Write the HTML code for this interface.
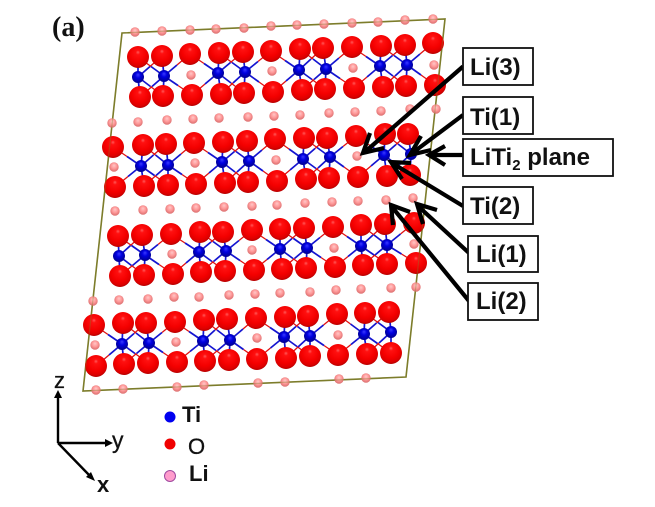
<!DOCTYPE html>
<html>
<head>
<meta charset="utf-8">
<style>
html,body{margin:0;padding:0;background:#fff;width:655px;height:507px;overflow:hidden}
svg{display:block}
.b{fill:#fff;stroke:#111;stroke-width:1.8}
.t{font-family:"Liberation Sans",Arial,sans-serif;font-weight:bold;font-size:24px;fill:#111}
.a{fill:none;stroke:#000;stroke-width:4.200}
.ax{fill:none;stroke:#000;stroke-width:2.400}
</style>
</head>
<body>
<svg id="s" xmlns="http://www.w3.org/2000/svg" width="655" height="507" viewBox="0 0 655 507">
<defs>
<radialGradient id="gO" cx="48%" cy="40%" r="62%" fx="50%" fy="28%">
<stop offset="0" stop-color="#ff5a5a"/><stop offset=".16" stop-color="#ff1010"/><stop offset=".6" stop-color="#f40000"/><stop offset=".85" stop-color="#dc0000"/><stop offset="1" stop-color="#a80000"/>
</radialGradient>
<radialGradient id="gT" cx="50%" cy="45%" r="58%" fx="50%" fy="30%">
<stop offset="0" stop-color="#3a3aff"/><stop offset=".4" stop-color="#0000e0"/><stop offset="1" stop-color="#000088"/>
</radialGradient>
<radialGradient id="gL" cx="50%" cy="45%" r="58%" fx="50%" fy="32%">
<stop offset="0" stop-color="#ffc8c8"/><stop offset=".5" stop-color="#ff9a9a"/><stop offset="1" stop-color="#d86a6a"/>
</radialGradient>
</defs>
<polygon points="122,33 445,19 406,377 83,391" fill="none" stroke="#7d7d2c" stroke-width="1.6"/>
<g id="bonds"></g>
<g id="atoms"></g>
<polygon points="122,33 445,19 406,377 83,391" fill="none" stroke="#7d7d2c" stroke-width="1.2" opacity=".35"/>

<g class="a">
<path class="a" d="M463 66.500L366 151M370 133L363 153L384 148"/>
<path class="a" d="M463 115L411 154M421 136L410 155L431 150"/>
<path class="a" d="M463 155H430M445 146L429 155L445 165"/>
<path class="a" d="M463 206L392 163M411 163L391 162L402 179"/>
<path class="a" d="M469 253L418 206M437 210L417 204L423 224"/>
<path class="a" d="M469 301L392 207M410 212L391 205L393 225"/>
</g>

<rect class="b" x="463" y="48" width="70" height="37"/>
<rect class="b" x="463" y="97" width="70" height="37"/>
<rect class="b" x="463" y="139" width="150" height="37"/>
<rect class="b" x="463" y="187" width="70" height="37"/>
<rect class="b" x="468" y="236" width="70" height="36"/>
<rect class="b" x="468" y="283" width="70" height="37"/>
<text class="t" x="470" y="75">Li(3)</text>
<text class="t" x="470" y="125">Ti(1)</text>
<text class="t" x="470" y="165">LiTi<tspan font-size="15" dy="5">2</tspan><tspan dy="-5"> plane</tspan></text>
<text class="t" x="470" y="214">Ti(2)</text>
<text class="t" x="476" y="262">Li(1)</text>
<text class="t" x="476" y="309">Li(2)</text>

<text x="52" y="36" font-family="'Liberation Serif',serif" font-weight="bold" font-size="28" fill="#111">(a)</text>

<path class="ax" d="M58 443V394M58 443H110M58 443L91 477"/>
<polygon points="58,390 54,398 62,398" fill="#000"/>
<polygon points="113,443 105,439 105,447" fill="#000"/>
<polygon points="95,481 86,477 91,472" fill="#000"/>
<text x="54" y="388" font-family="'Liberation Sans',sans-serif" font-size="22" fill="#111" stroke="#111" stroke-width=".3">z</text>
<text x="112" y="448" font-family="'Liberation Sans',sans-serif" font-size="23" fill="#111" stroke="#111" stroke-width=".3">y</text>
<text x="97" y="492" font-family="'Liberation Sans',sans-serif" font-weight="bold" font-size="22" fill="#111">x</text>

<circle cx="170" cy="417" r="5.500" fill="#0000f0"/>
<circle cx="170" cy="444" r="5.500" fill="#f00000"/>
<circle cx="170" cy="476" r="5.500" fill="#ff9ccc" stroke="#a04aa0" stroke-width="1"/>
<text x="182" y="422" font-family="'Liberation Sans',sans-serif" font-weight="bold" font-size="22" fill="#111">Ti</text>
<text x="188" y="454" font-family="'Liberation Sans',sans-serif" font-size="22" fill="#111" stroke="#111" stroke-width=".3">O</text>
<text x="189" y="481" font-family="'Liberation Sans',sans-serif" font-weight="bold" font-size="22" fill="#111">Li</text>
</svg>
<script>
var NS="http://www.w3.org/2000/svg";
var layers=[
{top:[[138,57],[162,56],[190,54],[219,53],[243,52],[271,51],[300,49],[323,48],[352,47],[381,46],[405,45],[433,43]],
 bot:[[140,97],[163,96],[192,95],[221,94],[244,93],[273,92],[302,90],[325,89],[354,88],[383,87],[406,86],[435,85]],
 ti:[[138,77],[164,76],[218,73],[245,72],[299,70],[326,69],[380,66],[407,65]],idx:[0,1,3,4,6,7,9,10]},
{top:[[113,147],[143,145],[166,144],[194,143],[223,142],[247,141],[275,139],[304,138],[327,138],[356,136],[385,134],[408,134]],
 bot:[[115,187],[144,186],[168,185],[196,184],[225,183],[248,182],[277,181],[306,179],[329,178],[358,177],[387,176],[410,175]],
 ti:[[141,166],[168,165],[222,162],[249,161],[303,159],[330,157],[384,155],[411,154]],idx:[1,2,4,5,7,8,10,11]},
{top:[[118,236],[142,235],[171,234],[200,232],[223,232],[252,230],[280,229],[304,228],[333,227],[361,225],[385,224],[414,223]],
 bot:[[120,276],[144,275],[173,274],[201,272],[225,271],[254,270],[282,269],[306,268],[335,267],[363,265],[387,264],[416,263]],
 ti:[[119,256],[145,255],[199,252],[226,251],[280,249],[307,248],[361,246],[387,245]],idx:[0,1,3,4,6,7,9,10]},
{top:[[94,325],[123,323],[146,323],[175,322],[204,320],[227,319],[256,318],[285,317],[308,316],[337,314],[365,313],[389,312]],
 bot:[[96,366],[124,364],[148,363],[177,362],[205,361],[229,360],[257,359],[286,358],[310,356],[338,355],[367,354],[391,353]],
 ti:[[122,344],[149,343],[203,341],[230,340],[284,337],[310,336],[364,334],[391,332]],idx:[1,2,4,5,7,8,10,11]}
];
var li=[[135,32],[162,31],[190,30],[216,29],[244,28],[271,26],[297,25],[324,24],[352,23],[378,22],[405,20],[433,19],
[112,123],[138,122],[167,120],[193,119],[219,118],[248,117],[274,116],[300,115],[329,113],[355,112],[381,111],[410,109],[436,109],
[191,75],[272,71],[353,68],[434,65],
[114,167],[195,163],[276,160],[357,156],
[115,211],[143,210],[170,209],[196,208],[224,207],[252,206],[277,205],[305,203],[332,202],[358,201],[386,200],[413,198],
[172,254],[252,250],[334,248],[414,244],
[93,301],[119,300],[148,299],[174,297],[199,297],[229,295],[255,294],[280,293],[310,292],[336,290],[361,289],[391,288],[416,287],
[95,345],[176,342],[257,338],[338,335],
[96,390],[123,389],[177,387],[204,385],[258,383],[285,382],[339,379],[366,378]];
var gb=document.getElementById("bonds"),ga=document.getElementById("atoms");
function line(a,b,c,w){var l=document.createElementNS(NS,"line");l.setAttribute("x1",a[0]);l.setAttribute("y1",a[1]);l.setAttribute("x2",b[0]);l.setAttribute("y2",b[1]);l.setAttribute("stroke",c);l.setAttribute("stroke-width",w);gb.appendChild(l);}
function circ(p,r,g){var c=document.createElementNS(NS,"circle");c.setAttribute("cx",p[0]);c.setAttribute("cy",p[1]);c.setAttribute("r",r);c.setAttribute("fill","url(#"+g+")");ga.appendChild(c);}
function bond(t,o){var m=[(t[0]+o[0])/2,(t[1]+o[1])/2];line(m,o,"#e01010",1.3);line(t,m,"#1414d0",1.7);}
layers.forEach(function(L){
 L.ti.forEach(function(t,i){var k=L.idx[i];
  [k-1,k,k+1].forEach(function(j){
   if(L.top[j])bond(t,L.top[j]);
   if(L.bot[j])bond(t,L.bot[j]);
  });
 });
});
layers.forEach(function(L){
 L.top.forEach(function(p){circ(p,11,"gO");});
 L.bot.forEach(function(p){circ(p,11,"gO");});
 L.ti.forEach(function(p){circ(p,6,"gT");});
});
li.forEach(function(p){circ(p,4.7,"gL");});
</script>
</body>
</html>
